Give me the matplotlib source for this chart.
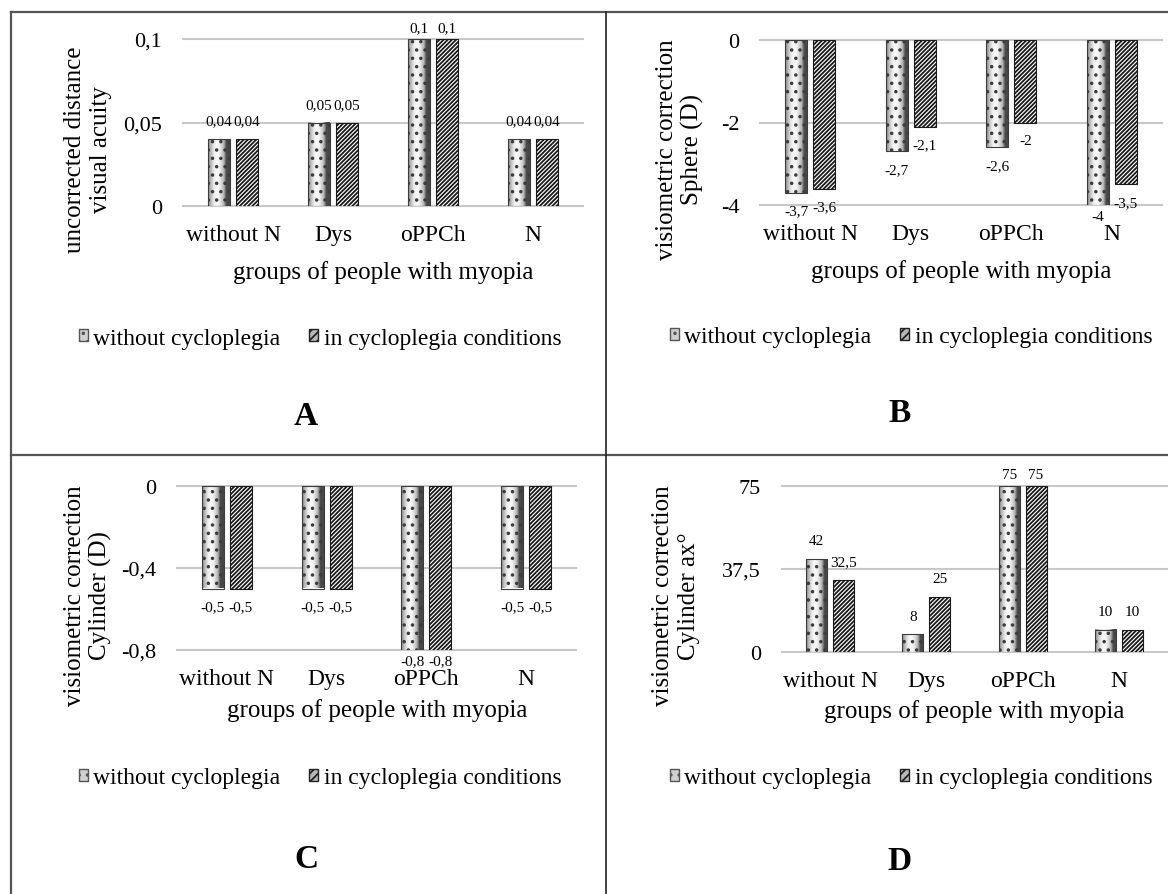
import matplotlib
matplotlib.use('Agg')
import matplotlib.pyplot as plt
import numpy as np
from matplotlib.patches import Patch
from matplotlib.lines import Line2D

plt.rcParams['font.family'] = ['Liberation Serif', 'DejaVu Serif']
plt.rcParams['hatch.linewidth'] = 1.3

W, H = 1168, 895

# данные
groups = ['without N', 'Dys', 'oPPCh', 'N']
series = ['without cycloplegia', 'in cycloplegia conditions']

acuity_no = [0.04, 0.05, 0.1, 0.04]
acuity_cy = [0.04, 0.05, 0.1, 0.04]
sphere_no = [-3.7, -2.7, -2.6, -4]
sphere_cy = [-3.6, -2.1, -2.0, -3.5]
cyl_no = [-0.5, -0.5, -0.8, -0.5]
cyl_cy = [-0.5, -0.5, -0.8, -0.5]
axis_no = [42, 8, 75, 10]
axis_cy = [32.5, 25, 75, 10]

ticks_a = [0, 0.05, 0.1]
ticks_b = [-4, -2, 0]
ticks_c = [-0.8, -0.4, 0]
ticks_d = [0, 37.5, 75]

# горизонтальный "цилиндрический" градиент для точечных столбиков
grad = np.array([[0.60, 0.78, 0.92, 0.97, 0.95, 0.85, 0.70, 0.30, 0.28]])


def fmt(v):
    return f"{v:g}".replace('.', ',')


def px_axes(fig, x0, y0, x1, y1):
    return fig.add_axes([x0 / W, 1 - y1 / H, (x1 - x0) / W, (y1 - y0) / H])


def ftext(x, y, s, **kw):
    fig.text(x / W, 1 - y / H, s, ha='center', va='center', **kw)


def panel(ax, vals1, vals2, ticks, lo, hi):
    x = np.arange(len(groups))
    b1 = ax.bar(x - 0.14, vals1, width=0.22, facecolor='none', edgecolor='#3c3c3c',
                hatch='..', linewidth=0.8, zorder=3)
    for b in b1:
        bx, by, bw, bh = b.get_x(), b.get_y(), b.get_width(), b.get_height()
        ax.imshow(grad, extent=[bx, bx + bw, by, by + bh], aspect='auto', cmap='gray',
                  vmin=0, vmax=1, interpolation='bilinear', zorder=2)
    b2 = ax.bar(x + 0.14, vals2, width=0.22, facecolor='white', edgecolor='#1a1a1a',
                hatch='////////', linewidth=0.8, zorder=3)

    ax.set_xlim(-0.5, len(groups) - 0.5)
    ax.set_ylim(lo, hi)
    ax.set_aspect('auto')
    ax.set_yticks(ticks, [fmt(t) for t in ticks])
    ax.set_xticks(x, groups)
    ax.yaxis.grid(True, color='#c8c8c8', linewidth=1.5)
    for g in ax.yaxis.get_gridlines():
        g.set_clip_on(False)
    ax.set_axisbelow(True)
    for s in ax.spines.values():
        s.set_visible(False)
    ax.tick_params(axis='y', length=0, labelsize=16, pad=15)
    ax.tick_params(axis='x', length=0, labelsize=17, pad=13)

    # подписи значений
    for bars, vals in ((b1, vals1), (b2, vals2)):
        for b, v in zip(bars, vals):
            off = 8 if v in (lo, hi) else 13
            sign = 1 if v > 0 else -1
            ax.annotate(fmt(v), (b.get_x() + b.get_width() / 2, v),
                        xytext=(0, sign * off), textcoords='offset points',
                        ha='center', va='center', fontsize=11, zorder=5,
                        annotation_clip=False)


fig = plt.figure(figsize=(W / 100, H / 100), dpi=100)

ax_a = px_axes(fig, 183, 40, 583, 207)
panel(ax_a, acuity_no, acuity_cy, ticks_a, 0, 0.1)
ax_b = px_axes(fig, 760, 41, 1162, 206)
panel(ax_b, sphere_no, sphere_cy, ticks_b, -4, 0)
ax_c = px_axes(fig, 177, 487, 576, 651)
panel(ax_c, cyl_no, cyl_cy, ticks_c, -0.8, 0)
ax_d = px_axes(fig, 782, 487, 1167, 653)
panel(ax_d, axis_no, axis_cy, ticks_d, 0, 75)

# подписи осей
ylabels = ['uncorrected distance\nvisual acuity', 'visiometric correction\nSphere (D)',
           'visiometric correction\nCylinder (D)', 'visiometric correction\nCylinder ax°']
ylab_pos = [(88, 150), (680, 150), (88, 596), (676, 596)]
for s, (px, py) in zip(ylabels, ylab_pos):
    ftext(px, py, s, rotation=90, multialignment='center', fontsize=18)

for px, py in [(383, 273), (961, 272), (377, 711), (974, 712)]:
    ftext(px, py, 'groups of people with myopia', fontsize=18)

# легенды
handles = [Patch(facecolor='#d0d0d0', edgecolor='#555555', hatch='..'),
           Patch(facecolor='#b8b8b8', edgecolor='#222222', hatch='////')]
for px, py in [(320, 339), (911, 338), (320, 779), (911, 779)]:
    fig.legend(handles, series, loc='center', bbox_to_anchor=(px / W, 1 - py / H),
               ncol=2, frameon=False, fontsize=17, handlelength=0.38, handleheight=0.38,
               handletextpad=0.25, columnspacing=1.2, borderaxespad=0)

for s, (px, py) in zip('ABCD', [(306, 417), (900, 414), (306, 860), (900, 862)]):
    ftext(px, py, s, fontsize=24, fontweight='bold')

# рамки таблицы
def fline(x0, y0, x1, y1, **kw):
    fig.add_artist(Line2D([x0 / W, x1 / W], [1 - y0 / H, 1 - y1 / H], **kw))

fline(11, 13, 1168, 13, color='#555555', lw=1.6)
fline(11, 13, 11, 895, color='#555555', lw=1.6)
fline(11, 456, 1168, 456, color='#555555', lw=1.6)
fline(606, 13, 606, 895, color='#222222', lw=1.2)

fig.savefig('out.png', dpi=100)
